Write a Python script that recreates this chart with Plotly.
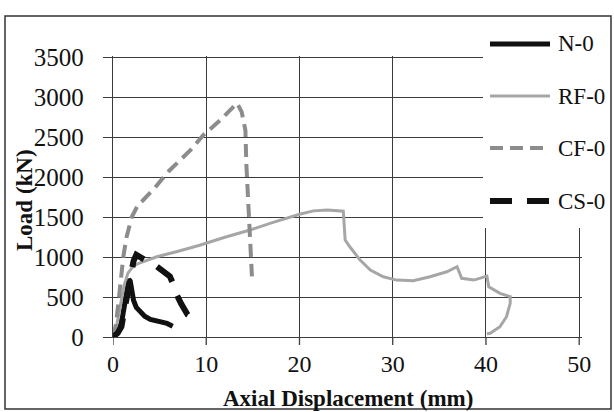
import plotly.graph_objects as go

# ---- data ----
n0_x = [0, 0.4, 0.9, 1.2, 1.5, 1.7, 1.85, 2.0, 2.2, 2.5, 2.9, 3.4, 4.0, 5.0, 5.8, 6.4]
n0_y = [0, 60, 170, 350, 580, 720, 700, 600, 460, 370, 310, 260, 220, 190, 170, 135]

rf_x = [0, 0.4, 0.8, 1.2, 1.6, 2.2, 2.9, 4.7, 6.8, 9.3, 12, 14.7, 17, 19, 20.1, 21.5, 23, 24.7,
        24.8, 24.9, 25.4, 26.5, 27.6, 29.0, 30.4, 32.2, 34.0, 35.8, 36.9, 37.4, 38.7, 40.1,
        40.3, 41.5, 42.6, 42.6, 42.2, 41.5, 40.45, 40.1]
rf_y = [0, 150, 400, 650, 800, 890, 930, 1005, 1068, 1150, 1250, 1340, 1430, 1506, 1540, 1580, 1590, 1575,
        1400, 1214, 1130, 964, 839, 755, 713, 705, 755, 817, 880, 735, 713, 763,
        630, 547, 505, 422, 254, 129, 46, 40]

cf_x = [0, 0.3, 0.6, 0.9, 1.1, 1.45, 2.0, 2.7, 3.2, 4.5, 6.0, 8.3, 9.7, 11.5, 12.5, 13.3,
        13.8, 14.2, 14.3, 14.5, 14.6, 14.8, 14.9]
cf_y = [0, 150, 450, 800, 1000, 1250, 1500, 1660, 1710, 1870, 2080, 2340, 2530, 2716, 2830, 2930,
        2820, 2590, 2170, 1760, 1340, 1000, 760]

cs_x = [0, 0.5, 0.9, 1.3, 1.8, 2.2, 2.5, 2.9, 3.5, 4.3, 5.3, 6.1, 6.5, 6.7, 7.3, 8.0, 8.7, 9.3]
cs_y = [0, 50, 130, 380, 700, 950, 1030, 1000, 960, 920, 840, 760, 650, 560, 420, 280, 230, 190]

series_names = ["N-0", "RF-0", "CF-0", "CS-0"]
x_ticks = [0, 10, 20, 30, 40, 50]
y_ticks = [0, 500, 1000, 1500, 2000, 2500, 3000, 3500]

FONT = "Liberation Serif, Times New Roman, Tinos, serif"
GRID = "#3c3c3c"

W, H = 614, 412
L, R, T, B = 113, 32, 56, 75
PW, PH = W - L - R, H - T - B


def px(xp):
    return (xp - L) / PW


def py(yp):
    return (H - B - yp) / PH


styles = {
    "N-0": dict(color="#111111", width=5, dash="solid"),
    "RF-0": dict(color="#a6a6a6", width=3, dash="solid"),
    "CF-0": dict(color="#8c8c8c", width=4, dash="13px,7px"),
    "CS-0": dict(color="#111111", width=6, dash="22px,15px"),
}

fig = go.Figure()
for name, xs, ys in zip(series_names, [n0_x, rf_x, cf_x, cs_x], [n0_y, rf_y, cf_y, cs_y]):
    fig.add_trace(go.Scatter(x=xs, y=ys, mode="lines", name=name,
                             line=dict(**styles[name]), showlegend=False))

fig.update_layout(
    width=W, height=H,
    margin=dict(l=L, r=R, t=T, b=B),
    paper_bgcolor="white", plot_bgcolor="white",
    font=dict(family=FONT, color="#111111"),
)
fig.update_xaxes(range=[0, 50.3], tickvals=x_ticks, showgrid=True, gridcolor=GRID, gridwidth=1.3,
                 zeroline=False, showline=True, linecolor=GRID, linewidth=1.3,
                 ticks="", tickfont=dict(size=24, family=FONT), ticklabelstandoff=5)
fig.update_yaxes(range=[0, 3520], tickvals=y_ticks, showgrid=True, gridcolor=GRID, gridwidth=1.3,
                 zeroline=False, showline=True, linecolor=GRID, linewidth=1.3,
                 ticks="outside", ticklen=9, tickcolor=GRID, tickwidth=1.3,
                 tickfont=dict(size=25, family=FONT), ticklabelstandoff=14)

shapes = []
# x tick marks below the axis
for xv in x_ticks:
    shapes.append(dict(type="line", xref="x", yref="paper", x0=xv, x1=xv, y0=0, y1=py(345),
                       line=dict(color=GRID, width=1.3), layer="above"))
# white legend area covering the grid
shapes.append(dict(type="rect", xref="paper", yref="paper", x0=px(483), x1=px(610), y0=py(228), y1=py(18),
                   fillcolor="white", line=dict(width=0), layer="above"))
# outer border
shapes.append(dict(type="rect", xref="paper", yref="paper", x0=px(5), x1=px(611), y0=py(409), y1=py(16),
                   line=dict(color="#333333", width=1.5), fillcolor="rgba(0,0,0,0)", layer="above"))

legend_y = [44, 96, 148, 201]
annotations = []
for name, ly in zip(series_names, legend_y):
    st = styles[name]
    shapes.append(dict(type="line", xref="paper", yref="paper", x0=px(490), x1=px(550 if name != "CF-0" else 548),
                       y0=py(ly), y1=py(ly),
                       line=dict(color=st["color"], width=st["width"], dash=st["dash"]), layer="above"))
    annotations.append(dict(xref="paper", yref="paper", x=px(556), y=py(ly), text=name, showarrow=False,
                            xanchor="left", yanchor="middle", font=dict(size=23, family=FONT, color="#111111")))

annotations.append(dict(xref="paper", yref="paper", x=px(348), y=py(398), text="<b>Axial Displacement (mm)</b>",
                        showarrow=False, xanchor="center", yanchor="middle",
                        font=dict(size=23, family=FONT, color="#111111")))
annotations.append(dict(xref="paper", yref="paper", x=px(24), y=py(200), text="<b>Load (kN)</b>",
                        showarrow=False, xanchor="center", yanchor="middle", textangle=-90,
                        font=dict(size=23, family=FONT, color="#111111")))

fig.update_layout(shapes=shapes, annotations=annotations)
fig.write_html("out.html", config={"displayModeBar": False},
               post_script="document.body.style.margin='0';document.body.style.overflow='hidden';")
